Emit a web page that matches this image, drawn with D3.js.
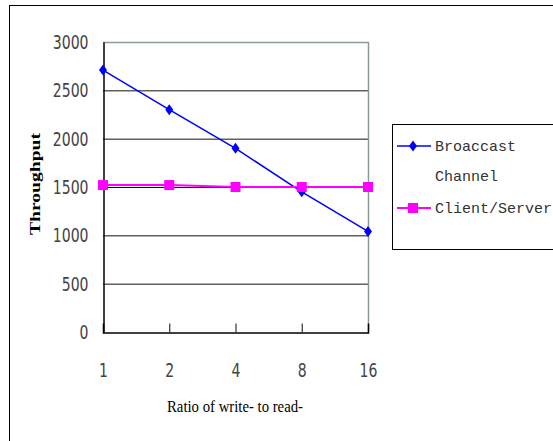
<!DOCTYPE html>
<html><head><meta charset="utf-8">
<script src="https://cdn.jsdelivr.net/npm/d3@7"></script>
<style>
html,body{margin:0;padding:0;background:#fff;}
svg{display:block;}
</style></head>
<body>
<svg id="c" width="553" height="441"></svg>
<script>
const categories = ["1","2","4","8","16"];
const broadcast = [2710, 2300, 1900, 1450, 1040];
const clientServer = [1520, 1520, 1500, 1500, 1500];
const yTicks = [0, 500, 1000, 1500, 2000, 2500, 3000];

const svg = d3.select("#c");
const L = 103, R = 368, T = 42, B = 332;

// outer frame
svg.append("rect").attr("x", 9.5).attr("y", 5.5).attr("width", 600).attr("height", 500)
  .attr("fill", "#fff").attr("stroke", "#000").attr("stroke-width", 1);

const x = d3.scalePoint().domain(categories).range([L, R]).padding(0);
const y = d3.scaleLinear().domain([0, 3000]).range([B, T]);

// gridlines
svg.append("g").selectAll("line").data(yTicks.filter(d => d > 0 && d < 3000)).join("line")
  .attr("x1", L).attr("x2", R).attr("y1", d => y(d) + 0.5).attr("y2", d => y(d) + 0.5)
  .attr("stroke", "#111").attr("stroke-width", 1);
// plot border top/right (gray)
svg.append("line").attr("x1", L).attr("x2", R + 0.5).attr("y1", y(3000) + 0.5).attr("y2", y(3000) + 0.5)
  .attr("stroke", "#8a9a9a").attr("stroke-width", 1.5);
svg.append("line").attr("x1", R + 0.5).attr("x2", R + 0.5).attr("y1", T).attr("y2", B)
  .attr("stroke", "#8a9a9a").attr("stroke-width", 1.5);

const SX = 0.78;
const numFont = "'DejaVu Sans Condensed','DejaVu Sans',sans-serif";
// y axis
const yAxis = svg.append("g").attr("transform", `translate(${L + 0.5},0)`)
  .call(d3.axisLeft(y).tickValues(yTicks).tickSize(0).tickPadding(15).tickFormat(d3.format("d")));
yAxis.select(".domain").attr("stroke", "#000").attr("stroke-width", 1.5);
yAxis.selectAll("text")
  .attr("font-family", numFont).attr("font-size", 20).attr("fill", "#444")
  .attr("x", -15 / SX).attr("transform", `scale(${SX},1)`);

// x axis
const xAxis = svg.append("g").attr("transform", `translate(0,${B + 0.5})`)
  .call(d3.axisTop(x).tickSize(9).tickFormat(d => d));
xAxis.select(".domain").attr("stroke", "#000").attr("stroke-width", 1.5);
xAxis.selectAll(".tick line").attr("stroke", "#333").attr("stroke-width", 1.2)
  .style("display", (d, i) => (i === 0 || i === categories.length - 1) ? "none" : null);
xAxis.selectAll(".tick text")
  .attr("font-family", numFont).attr("font-size", 20).attr("fill", "#444")
  .attr("x", 0).attr("y", 38).attr("dy", "0.35em").attr("text-anchor", "middle")
  .attr("transform", `scale(${SX},1)`);

// lines
const line = d3.line().x((d, i) => x(categories[i])).y(d => y(d));
svg.append("path").datum(broadcast).attr("d", line).attr("fill", "none")
  .attr("stroke", "#0000ff").attr("stroke-width", 1.5);
svg.append("path").datum(clientServer).attr("d", line).attr("fill", "none")
  .attr("stroke", "#ff00ff").attr("stroke-width", 2);

const diamond = (cx, cy) => `M${cx},${cy - 5.5}L${cx + 4},${cy}L${cx},${cy + 5.5}L${cx - 4},${cy}Z`;
svg.append("g").selectAll("path").data(broadcast).join("path")
  .attr("d", (d, i) => diamond(x(categories[i]), y(d))).attr("fill", "#0000ff");
svg.append("g").selectAll("rect").data(clientServer).join("rect")
  .attr("x", (d, i) => x(categories[i]) - 5).attr("y", d => y(d) - 5)
  .attr("width", 10).attr("height", 10).attr("fill", "#ff00ff");

// axis titles
svg.append("text").attr("x", 235).attr("y", 412).attr("text-anchor", "middle")
  .attr("font-family", "'Liberation Serif','Times New Roman',serif").attr("font-size", 16)
  .attr("textLength", 136).attr("lengthAdjust", "spacingAndGlyphs")
  .attr("fill", "#000").text("Ratio of write- to read-");
svg.append("text").attr("transform", "translate(40,184) rotate(-90)").attr("text-anchor", "middle")
  .attr("font-family", "'Liberation Serif','Times New Roman',serif").attr("font-size", 15)
  .attr("textLength", 102).attr("lengthAdjust", "spacingAndGlyphs")
  .attr("font-weight", "bold").attr("fill", "#000").text("Throughput");

// legend
const lg = svg.append("g");
lg.append("rect").attr("x", 392.5).attr("y", 124.5).attr("width", 200).attr("height", 125)
  .attr("fill", "#fff").attr("stroke", "#000").attr("stroke-width", 1);
const legendItems = [
  { lines: ["Broaccast", "Channel"], color: "#0000ff", marker: "diamond", y: 146 },
  { lines: ["Client/Server"], color: "#ff00ff", marker: "square", y: 208 }
];
legendItems.forEach(it => {
  lg.append("line").attr("x1", 397).attr("x2", 431).attr("y1", it.y).attr("y2", it.y)
    .attr("stroke", it.color).attr("stroke-width", it.marker === "square" ? 2 : 1.5);
  if (it.marker === "diamond") lg.append("path").attr("d", diamond(413, it.y)).attr("fill", it.color);
  else lg.append("rect").attr("x", 408).attr("y", it.y - 5).attr("width", 10).attr("height", 10).attr("fill", it.color);
  it.lines.forEach((t, j) => {
    lg.append("text").attr("x", 435).attr("y", it.y + j * 30).attr("dy", "0.35em")
      .attr("font-family", "'Liberation Mono','DejaVu Sans Mono',monospace").attr("font-size", 15)
      .attr("fill", "#333").text(t);
  });
});
</script>
</body></html>
